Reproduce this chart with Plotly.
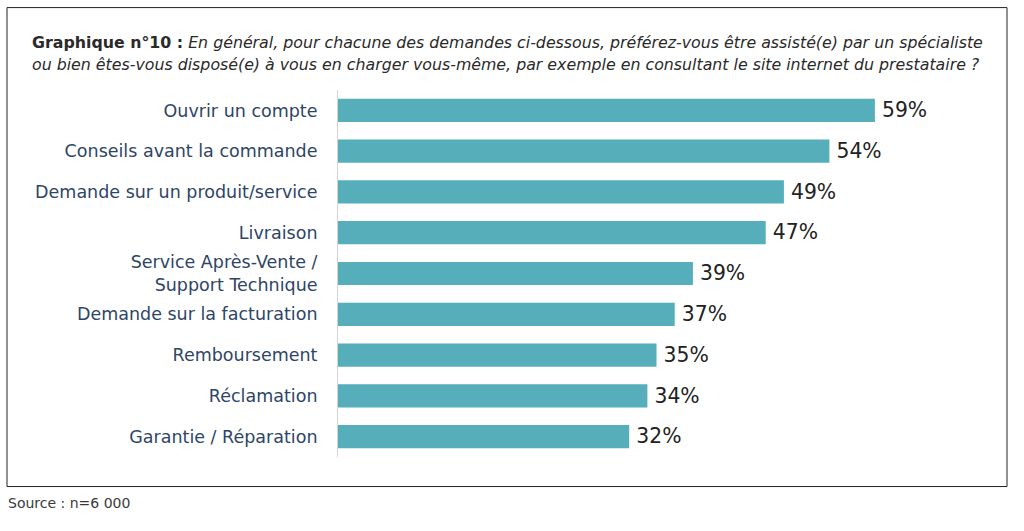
import plotly.graph_objects as go

categories = [
    "Ouvrir un compte",
    "Conseils avant la commande",
    "Demande sur un produit/service",
    "Livraison",
    "Service Après-Vente /<br>Support Technique",
    "Demande sur la facturation",
    "Remboursement",
    "Réclamation",
    "Garantie / Réparation",
]
values = [59, 54, 49, 47, 39, 37, 35, 34, 32]
value_labels = [f"\u2009{v}%" for v in values]

title_bold = "Graphique n°10 :"
title_line1 = " En général, pour chacune des demandes ci-dessous, préférez-vous être assisté(e) par un spécialiste"
title_line2 = "ou bien êtes-vous disposé(e) à vous en charger vous-même, par exemple en consultant le site internet du prestataire ?"
source_text = "Source : n=6 000"

W, H = 1024, 531
L, R = 338, 975
T, B = 89.6, 457.4
pw, ph = R - L, B - T

def px(x):
    return (x - L) / pw

def py(y):
    return (B - y) / ph

FONT = "DejaVu Sans"

fig = go.Figure(go.Bar(
    x=values, y=categories, orientation="h",
    marker=dict(color="#55AEBA", line=dict(width=0)),
    text=value_labels, textposition="outside",
    textfont=dict(size=21, color="#222222", family=FONT),
    cliponaxis=False, width=0.57,
))

fig.update_layout(
    width=W, height=H,
    margin=dict(l=L, r=W - R, t=T, b=H - B),
    paper_bgcolor="white", plot_bgcolor="white",
    showlegend=False,
    font=dict(family=FONT),
    xaxis=dict(range=[0, 70], visible=False, fixedrange=True),
    yaxis=dict(autorange="reversed", showline=True, linecolor="#d4d4d4", linewidth=1,
               ticks="", showgrid=False, ticklabelstandoff=16,
               tickfont=dict(size=17.5, color="#2E4566", family=FONT)),
    shapes=[dict(type="rect", xref="paper", yref="paper",
                 x0=px(7), x1=px(1007), y0=py(487), y1=py(7),
                 line=dict(color="#222222", width=1), fillcolor="rgba(0,0,0,0)", layer="below")],
    annotations=[
        dict(xref="paper", yref="paper", x=px(30), y=py(42), xanchor="left", yanchor="middle",
             showarrow=False, align="left",
             text=f"<b>{title_bold}</b><i>{title_line1}</i>",
             font=dict(size=15.8, color="#2a2a2a", family=FONT)),
        dict(xref="paper", yref="paper", x=px(30), y=py(64), xanchor="left", yanchor="middle",
             showarrow=False, align="left",
             text=f"<i>{title_line2}</i>",
             font=dict(size=15.8, color="#2a2a2a", family=FONT)),
        dict(xref="paper", yref="paper", x=px(6), y=py(503), xanchor="left", yanchor="middle",
             showarrow=False, text=source_text,
             font=dict(size=14, color="#3a3a3a", family=FONT)),
    ],
)

fig.write_html("out.html", config={"displayModeBar": False},
               post_script="document.body.style.margin='0';document.body.style.overflow='hidden';")
